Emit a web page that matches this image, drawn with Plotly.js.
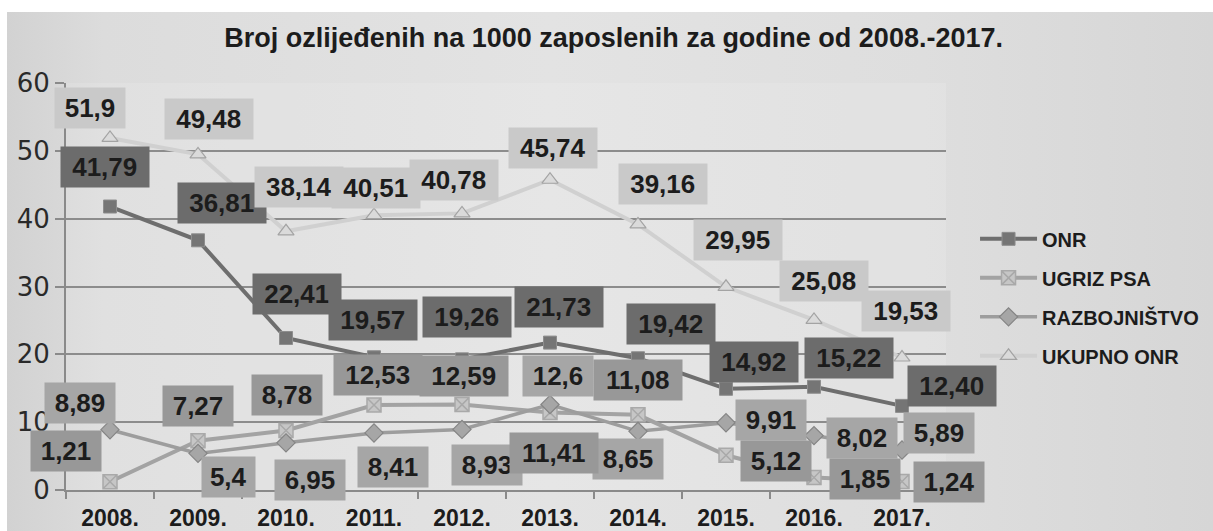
<!DOCTYPE html>
<html>
<head>
<meta charset="utf-8">
<script src="https://cdn.plot.ly/plotly-3.0.1.min.js"></script>
<style>
  html, body { margin: 0; padding: 0; background: #ffffff; width: 1213px; height: 531px; overflow: hidden; }
  #chart {
    position: absolute; left: 7px; top: 12px; width: 1206px; height: 519px;
    background: linear-gradient(to right, #d2d2d2 0%, #dcdcdc 8%, #e3e3e3 45%, #dedede 76%, #d6d6d6 100%);
  }
</style>
</head>
<body>
<div id="chart"></div>
<script>
// ---- data ----
const years = ['2008.', '2009.', '2010.', '2011.', '2012.', '2013.', '2014.', '2015.', '2016.', '2017.'];
const seriesNames = ['ONR', 'UGRIZ PSA', 'RAZBOJNIŠTVO', 'UKUPNO ONR'];
const onr = [41.79, 36.81, 22.41, 19.57, 19.26, 21.73, 19.42, 14.92, 15.22, 12.40];
const ugrizPsa = [1.21, 7.27, 8.78, 12.53, 12.59, 11.41, 11.08, 5.12, 1.85, 1.24];
const razbojnistvo = [8.89, 5.4, 6.95, 8.41, 8.93, 12.6, 8.65, 9.91, 8.02, 5.89];
const ukupnoOnr = [51.9, 49.48, 38.14, 40.51, 40.78, 45.74, 39.16, 29.95, 25.08, 19.53];
const yTicks = [0, 10, 20, 30, 40, 50, 60];

// ---- label placement (pixel shifts from each point: [right, down]) ----
const labelShift = {
  onr:    [[-5,-40],[24,-37],[11,-44],[-1,-37],[5,-42],[9,-36],[33,-34],[28,-27],[35,-29],[50,-20]],
  ugriz:  [[-44,-31],[0,-35],[1,-35],[4,-30],[2,-29],[4,40],[0,-35],[50,6],[51,2],[47,0]],
  razb:   [[-30,-27],[30,24],[24,37],[19,34],[25,36],[8,-29],[-10,28],[45,-3],[48,2],[37,-17]],
  ukupno: [[-20,-30],[11,-35],[13,-44],[2,-27],[-8,-33],[3,-32],[25,-40],[12,-47],[10,-39],[4,-47]]
};

const FONT = '"Liberation Sans", Arial, sans-serif';
const TXT = '#1c1c1c';

const styles = [
  { key: 'onr', vals: onr, fmt: v => v.toFixed(2).replace('.', ','), line: '#6e6e6e', lw: 4,
    marker: { symbol: 'square', size: 13, color: '#757575', line: { color: '#8e8e8e', width: 1 } }, box: '#6c6c6c' },
  { key: 'ugriz', vals: ugrizPsa, fmt: v => String(v).replace('.', ','), line: '#a3a3a3', lw: 4,
    marker: { symbol: 'square-x', size: 14, color: '#c6c6c6', line: { color: '#a9a9a9', width: 1.5 } }, box: '#989898' },
  { key: 'razb', vals: razbojnistvo, fmt: v => String(v).replace('.', ','), line: '#9d9d9d', lw: 3.5,
    marker: { symbol: 'diamond', size: 14, color: '#a6a6a6', line: { color: '#858585', width: 1.2 } }, box: '#a6a6a6' },
  { key: 'ukupno', vals: ukupnoOnr, fmt: v => String(v).replace('.', ','), line: '#d0d0d0', lw: 4,
    marker: { symbol: 'triangle-up', size: 14, color: '#dadada', line: { color: '#a3a3a3', width: 1.2 } }, box: '#c9c9c9' }
];

const traces = styles.map((s, k) => ({
  type: 'scatter', mode: 'lines+markers', name: '<b>' + seriesNames[k] + '</b>',
  x: years, y: s.vals, cliponaxis: false, legendgroup: 'g' + k,
  line: { color: s.line, width: s.lw },
  marker: s.marker,
  hoverinfo: 'x+y+name'
}));

// label stacking order: ONR, RAZBOJNIŠTVO, UGRIZ PSA, UKUPNO ONR
const labelOrder = [0, 2, 1, 3];
const annotations = [];
labelOrder.forEach(k => {
  const s = styles[k];
  s.vals.forEach((v, i) => {
    const t = s.fmt(v);
    const sh = labelShift[s.key][i];
    annotations.push({
      x: i, y: v, xref: 'x', yref: 'y', text: '<b>' + t + '</b>', showarrow: false,
      xshift: sh[0], yshift: -sh[1],
      font: { family: FONT, size: 26, color: TXT },
      bgcolor: s.box, borderpad: 5, width: 17.5 * t.length - 10, height: 30,
      align: 'center', valign: 'middle'
    });
  });
});

const layout = {
  width: 1206, height: 519,
  margin: { l: 59, r: 267, t: 71, b: 41, autoexpand: false },
  paper_bgcolor: 'rgba(0,0,0,0)',
  plot_bgcolor: 'rgba(255,255,255,0.12)',
  title: {
    text: '<b>Broj ozlijeđenih na 1000 zaposlenih za godine od 2008.-2017.</b>',
    font: { family: FONT, size: 27, color: TXT },
    xref: 'container', x: 0.503, xanchor: 'center', yref: 'container', y: 0.95, yanchor: 'middle'
  },
  xaxis: {
    type: 'category', tickson: 'boundaries', ticks: 'outside', ticklen: 7, tickwidth: 2, tickcolor: '#8a8a8a',
    showline: true, linecolor: '#8a8a8a', linewidth: 2, showgrid: false, zeroline: false,
    tickfont: { family: FONT, size: 23, color: TXT }, tickprefix: '<b>', ticksuffix: '</b>',
    ticklabelstandoff: 6, range: [-0.5, 9.5], fixedrange: true
  },
  yaxis: {
    range: [0, 60], tickvals: yTicks, ticktext: yTicks.map(String), ticks: 'outside', ticklen: 9, tickwidth: 2,
    tickcolor: '#8a8a8a', showline: true, linecolor: '#8a8a8a', linewidth: 2,
    showgrid: true, gridcolor: '#8c8c8c', gridwidth: 2, zeroline: false,
    tickfont: { family: '"DejaVu Sans", sans-serif', size: 26, color: '#2a2a2a' }, fixedrange: true
  },
  legend: {
    x: 1.033, xanchor: 'left', y: 0.665, yanchor: 'top',
    bgcolor: 'rgba(0,0,0,0)', itemwidth: 57, tracegroupgap: 10,
    font: { family: FONT, size: 20, color: TXT }, traceorder: 'grouped'
  },
  annotations: annotations,
  showlegend: true
};

Plotly.newPlot('chart', traces, layout, { displayModeBar: false, staticPlot: true });
</script>
</body>
</html>
